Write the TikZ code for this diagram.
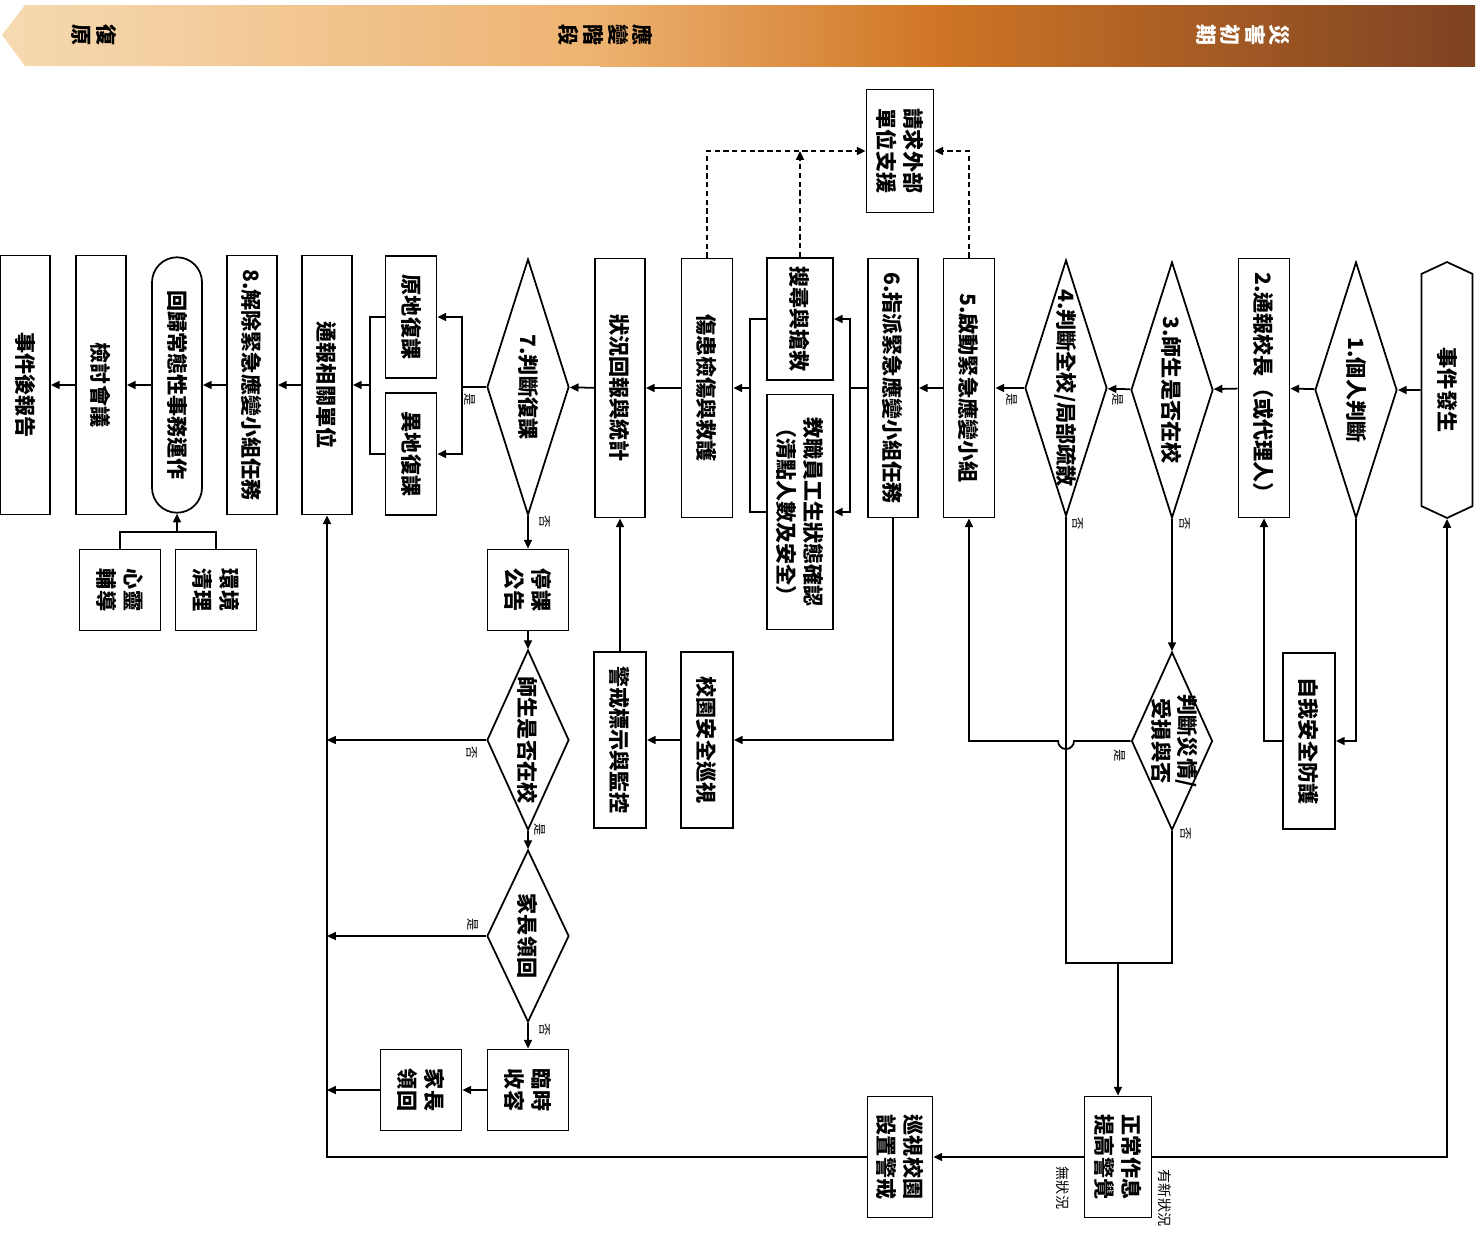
\documentclass[tikz,border=0pt]{standalone}
\usepackage{fontspec}
\setmainfont{Noto Sans CJK TC}
\usetikzlibrary{arrows.meta,shapes.geometric,shapes.misc,shapes.symbols}
\definecolor{bn-a}{RGB}{246,218,178}
\definecolor{bn-b}{RGB}{237,178,112}
\definecolor{bn-c}{RGB}{208,118,38}
\definecolor{bn-d}{RGB}{125,66,34}
\newcommand{\dtext}[1]{\makebox[0pt]{#1}}

\begin{document}
\begin{tikzpicture}[x=0.02cm, y=0.02cm, >={Triangle[length=5pt,width=4.5pt]},
	   font=\fontsize{12}{15}\selectfont\bfseries,
	   box/.style={draw, align=center, inner sep=1pt, fill=white},
	   lbox/.style={box, minimum width=5.18cm, minimum height=1.02cm},
	   sbox/.style={box, minimum width=2.44cm, minimum height=1.02cm},
	   mbox/.style={box, minimum width=3.52cm, minimum height=1.04cm},
	   qbox/.style={box, minimum width=1.62cm, minimum height=1.62cm},
	   dec/.style={draw, diamond, inner sep=0pt, fill=white, minimum width=5.12cm, minimum height=1.64cm},
	   lab/.style={font=\fontsize{7}{8}\selectfont, inner sep=0pt},
	   stage/.style={align=center, font=\fontsize{12}{14}\selectfont\bfseries}]
	  \useasboundingbox (0,0) rectangle (1483,-1238);
	  \shade[left color=bn-a, right color=bn-b] (25,-5) -- (601,-5) -- (601,-66) -- (25,-66) -- (2,-35) -- cycle;
	  \shade[left color=bn-b, right color=bn-c] (600,-5) rectangle (931,-66);
	  \shade[left color=bn-c, right color=bn-d] (930,-5) rectangle (1475,-66);
	  \begin{scope}[rotate=-90, transform shape, line width=1pt]
	  \node[stage] (t1) at (35,94) {復\\原};
	  \node[stage] (t2) at (35,606) {應\\變\\階\\段};
	  \node[stage, white] (t3) at (35,1243) {災\\害\\初\\期};
	  \node[draw, signal, signal to=west and east, signal pointer angle=130, minimum width=5.12cm, minimum height=1.02cm, inner sep=1pt] (ev) at (390,1447) {事件發生};
	  \node[dec] (s1) at (390,1356) {\dtext{1.個人判斷}};
	  \node[lbox] (s2) at (388,1264) {2.通報校長（或代理人）};
	  \node[dec] (s3) at (390,1172) {\dtext{3.師生是否在校}};
	  \node[dec] (s4) at (388,1066) {\dtext{4.判斷全校/局部疏散}};
	  \node[lbox] (s5) at (388,969) {5.啟動緊急應變小組};
	  \node[lbox, minimum height=1cm] (s6) at (388,893) {6.指派緊急應變小組任務};
	  \node[box, minimum width=2.46cm, minimum height=1.34cm] (ext) at (151,900) {請求外部\\單位支援};
	  \node[box, minimum width=2.44cm, minimum height=1.32cm] (srch) at (319,800) {搜尋與搶救};
	  \node[box, minimum width=4.7cm, minimum height=1.32cm] (chk) at (512,800) {教職員工生狀態確認\\（清點人數及安全）};
	  \node[lbox] (aid) at (388,707) {傷患檢傷與救護};
	  \node[lbox, minimum height=1cm] (rep) at (388,620) {狀況回報與統計};
	  \node[dec] (s7) at (387,528) {\dtext{7.判斷復課}};
	  \node[sbox] (orig) at (317,411) {原地復課};
	  \node[sbox] (alt) at (454,411) {異地復課};
	  \node[lbox, minimum height=1cm] (notif) at (385,327) {通報相關單位};
	  \node[lbox, minimum height=1cm] (s8) at (385,252) {8.解除緊急應變小組任務};
	  \node[draw, rounded rectangle, fill=white, minimum width=5.18cm, minimum height=1cm, inner sep=1pt] (back) at (385,177) {回歸常態性事務運作};
	  \node[lbox, minimum height=1cm] (rev) at (385,101) {檢討會議};
	  \node[lbox, minimum height=1cm] (post) at (385,25) {事件後報告};
	  \node[qbox] (env) at (590,216) {環境\\清理};
	  \node[qbox] (mind) at (590,120) {心靈\\輔導};
	  \node[qbox] (stop) at (590,528) {停課\\公告};
	  \node[dec, minimum width=3.6cm] (ins2) at (740,528) {\dtext{師生是否在校}};
	  \node[dec, minimum width=3.44cm] (par) at (936,528) {\dtext{家長領回}};
	  \node[qbox] (tmp) at (1090,528) {臨時\\收容};
	  \node[qbox] (pick) at (1090,421) {家長\\領回};
	  \node[mbox] (pat) at (740,707) {校園安全巡視};
	  \node[mbox] (warn) at (740,620) {警戒標示與監控};
	  \node[dec, minimum width=3.56cm, minimum height=1.62cm] (dmg) at (741,1172) {\dtext{\begin{tabular}{@{}c@{}}判斷災情/\\受損與否\end{tabular}}};
	  \node[mbox] (self) at (741,1309) {自我安全防護};
	  \node[box, minimum width=2.42cm, minimum height=1.34cm] (norm) at (1157,1118) {正常作息\\提高警覺};
	  \node[box, minimum width=2.42cm, minimum height=1.3cm] (insp) at (1157,900) {巡視校園\\設置警戒};
	  \coordinate (j1) at (388,850); \coordinate (j2) at (388,750);
	  \coordinate (j3) at (387,462); \coordinate (j4) at (385,370);
	  \coordinate (j5) at (532,177); \coordinate (q1) at (151,800);
	  \coordinate (m1) at (963,1066); \coordinate (m2) at (963,1172); \coordinate (m3) at (963,1118);
	  \coordinate (r1) at (740,327); \coordinate (r2) at (936,327); \coordinate (r3) at (1090,327);
	  \draw[->] (ev) -- (s1); \draw[->] (s1) -- (s2); \draw[->] (s2) -- (s3); \draw[->] (s3) -- (s4); \draw[->] (s4) -- (s5); \draw[->] (s5) -- (s6);
	  \draw (s6) -- (j1); \draw[->] (j1) -| (srch); \draw[->] (j1) -| (chk);
	  \draw (srch.south) |- (j2); \draw (chk.south) |- (j2); \draw[->] (j2) -- (aid);
	  \draw[->] (aid) -- (rep); \draw[->] (rep) -- (s7);
	  \draw (s7) -- (j3); \draw[->] (j3) -| (orig); \draw[->] (j3) -| (alt);
	  \draw (orig.south) |- (j4); \draw (alt.south) |- (j4); \draw[->] (j4) -- (notif);
	  \draw[->] (notif) -- (s8); \draw[->] (s8) -- (back); \draw[->] (back) -- (rev); \draw[->] (rev) -- (post);
	  \draw (env.west) -| (j5); \draw (mind.west) -| (j5); \draw[->] (j5) -- (back);
	  \draw[->] (s1.east) -| (self); \draw[->] (self.south) |- (s2);
	  \draw[->] (s3) -- (dmg);
	  \draw[->] (dmg.south) -- (741,1074) arc[start angle=90, end angle=-90, radius=8] |- (s5);
	  \draw (s4.east) -- (m1) -- (m2) -- (dmg.east); \draw[->] (m3) -- (norm);
	  \draw[->] (norm.north) |- (ev); \draw[->] (norm) -- (insp); \draw[->] (insp.south) |- (notif);
	  \draw[dashed, dash pattern=on 3pt off 2pt, ->] (s5.west) -| (ext);
	  \draw[dashed, dash pattern=on 3pt off 2pt, ->] (aid.west) -| (ext);
	  \draw[dashed, dash pattern=on 3pt off 2pt, ->] (srch.west) -- (q1);
	  \draw[->] (s6.east) -| (pat); \draw[->] (pat) -- (warn); \draw[->] (warn) -- (rep);
	  \draw[->] (s7) -- (stop); \draw[->] (stop) -- (ins2); \draw[->] (ins2) -- (par); \draw[->] (par) -- (tmp);
	  \draw[->] (ins2) -- (r1); \draw[->] (par) -- (r2); \draw[->] (tmp) -- (pick); \draw[->] (pick) -- (r3);
	  \node[lab] (a1) at (400,1118) {是}; \node[lab] (a2) at (400,1012) {是};
	  \node[lab] (a3) at (524,1185) {否}; \node[lab] (a4) at (524,1078) {否};
	  \node[lab] (a5) at (756,1120) {是}; \node[lab] (a6) at (834,1186) {否};
	  \node[lab] (a7) at (400,470) {是}; \node[lab] (a8) at (522,545) {否};
	  \node[lab] (a9) at (753,472) {否}; \node[lab] (a10) at (830,540) {是};
	  \node[lab] (a11) at (925,473) {是}; \node[lab] (a12) at (1030,545) {否};
	  \node[lab, font=\fontsize{8}{9}\selectfont] (a13) at (1198,1165) {有新狀況};
	  \node[lab, font=\fontsize{8}{9}\selectfont] (a14) at (1188,1063) {無狀況};
	  \end{scope}
	\end{tikzpicture}
\end{document}
